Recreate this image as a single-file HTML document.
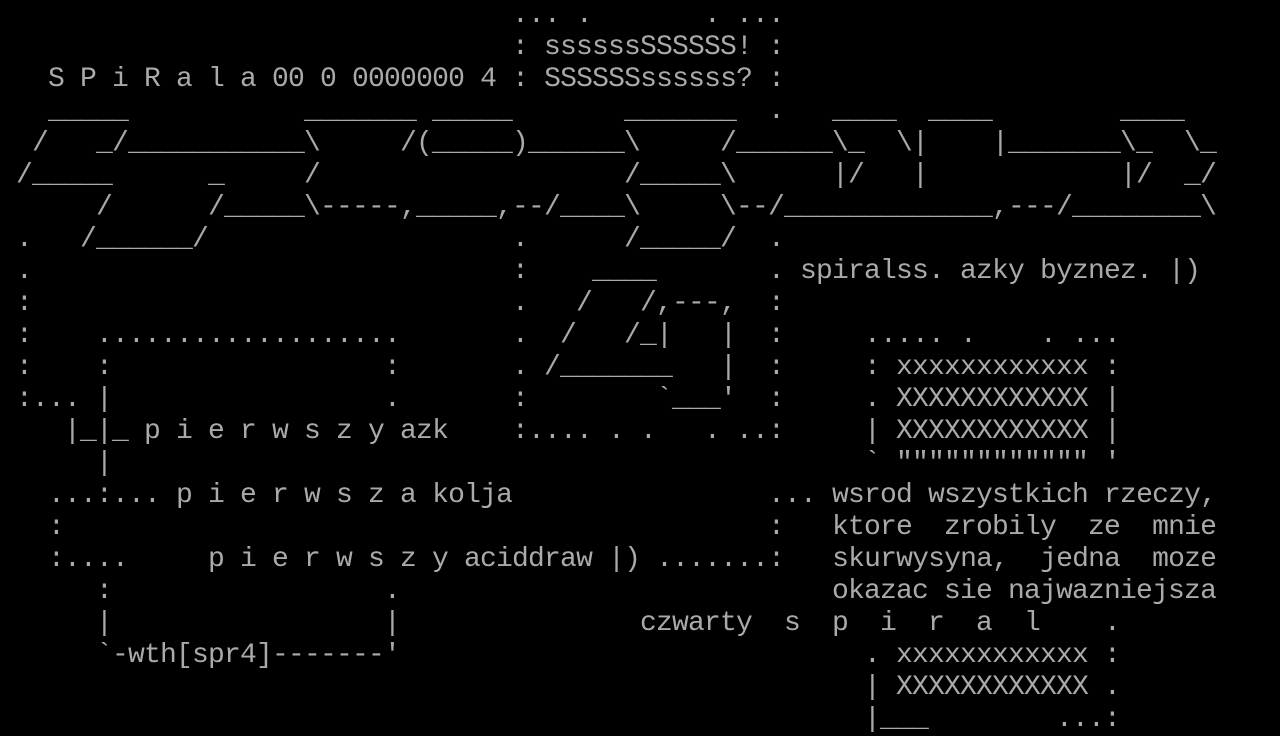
<!DOCTYPE html>
<html><head><meta charset="utf-8">
<style>
html,body{margin:0;padding:0;background:#000;}
#s{position:relative;width:1280px;height:736px;overflow:hidden;background:#000;}
#s span{position:absolute;white-space:pre;font-family:"Liberation Mono",monospace;font-size:28px;letter-spacing:-0.8px;line-height:32px;height:32px;color:#aaa;}
</style></head><body><div id="s">
<span style="top:0px;left:512px">...</span><span style="top:0px;left:576px">.</span><span style="top:0px;left:704px">.</span><span style="top:0px;left:736px">...</span>
<span style="top:32px;left:512px">: ssssssSSSSSS! :</span>
<span style="top:64px;left:48px">S P i R a l a 00 0 0000000 4 : SSSSSSssssss? :</span>
<span style="top:96px;left:48px">_____</span><span style="top:96px;left:304px">_______</span><span style="top:96px;left:432px">_____</span><span style="top:96px;left:624px">_______</span><span style="top:96px;left:768px">.</span><span style="top:96px;left:832px">____</span><span style="top:96px;left:928px">____</span><span style="top:96px;left:1120px">____</span>
<span style="top:128px;left:32px">/</span><span style="top:128px;left:96px">_/___________\</span><span style="top:128px;left:400px">/(_____)______\</span><span style="top:128px;left:720px">/______\_</span><span style="top:128px;left:896px">\|</span><span style="top:128px;left:992px">|_______\_</span><span style="top:128px;left:1184px">\_</span>
<span style="top:160px;left:16px">/_____</span><span style="top:160px;left:208px">_</span><span style="top:160px;left:304px">/</span><span style="top:160px;left:624px">/_____\</span><span style="top:160px;left:832px">|/</span><span style="top:160px;left:912px">|</span><span style="top:160px;left:1120px">|/</span><span style="top:160px;left:1184px">_/</span>
<span style="top:192px;left:96px">/</span><span style="top:192px;left:208px">/_____\-----,_____,--/____\</span><span style="top:192px;left:720px">\--/_____________,---/________\</span>
<span style="top:224px;left:16px">.</span><span style="top:224px;left:80px">/______/</span><span style="top:224px;left:512px">.</span><span style="top:224px;left:624px">/_____/</span><span style="top:224px;left:768px">.</span>
<span style="top:256px;left:16px">.</span><span style="top:256px;left:512px">:</span><span style="top:256px;left:592px">____</span><span style="top:256px;left:768px">. spiralss. azky byznez. |)</span>
<span style="top:288px;left:16px">:</span><span style="top:288px;left:512px">.</span><span style="top:288px;left:576px">/</span><span style="top:288px;left:640px">/,---,</span><span style="top:288px;left:768px">:</span>
<span style="top:320px;left:16px">:</span><span style="top:320px;left:96px">...................</span><span style="top:320px;left:512px">.</span><span style="top:320px;left:560px">/</span><span style="top:320px;left:624px">/_|</span><span style="top:320px;left:720px">|</span><span style="top:320px;left:768px">:</span><span style="top:320px;left:864px">.....</span><span style="top:320px;left:960px">.</span><span style="top:320px;left:1040px">.</span><span style="top:320px;left:1072px">...</span>
<span style="top:352px;left:16px">:</span><span style="top:352px;left:96px">:</span><span style="top:352px;left:384px">:</span><span style="top:352px;left:512px">.</span><span style="top:352px;left:544px">/_______</span><span style="top:352px;left:720px">|</span><span style="top:352px;left:768px">:</span><span style="top:352px;left:864px">: xxxxxxxxxxxx :</span>
<span style="top:384px;left:16px">:...</span><span style="top:384px;left:96px">|</span><span style="top:384px;left:384px">.</span><span style="top:384px;left:512px">:</span><span style="top:384px;left:656px">`___'</span><span style="top:384px;left:768px">:</span><span style="top:384px;left:864px">. XXXXXXXXXXXX |</span>
<span style="top:416px;left:64px">|_|_ p i e r w s z y azk</span><span style="top:416px;left:512px">:....</span><span style="top:416px;left:608px">.</span><span style="top:416px;left:640px">.</span><span style="top:416px;left:704px">.</span><span style="top:416px;left:736px">..:</span><span style="top:416px;left:864px">| XXXXXXXXXXXX |</span>
<span style="top:448px;left:96px">|</span><span style="top:448px;left:864px">` """""""""""" '</span>
<span style="top:480px;left:48px">...:... p i e r w s z a kolja</span><span style="top:480px;left:768px">... wsrod wszystkich rzeczy,</span>
<span style="top:512px;left:48px">:</span><span style="top:512px;left:768px">:   ktore  zrobily  ze  mnie</span>
<span style="top:544px;left:48px">:....</span><span style="top:544px;left:208px">p i e r w s z y aciddraw |) .......:   skurwysyna,  jedna  moze</span>
<span style="top:576px;left:96px">:</span><span style="top:576px;left:384px">.</span><span style="top:576px;left:832px">okazac sie najwazniejsza</span>
<span style="top:608px;left:96px">|</span><span style="top:608px;left:384px">|</span><span style="top:608px;left:640px">czwarty</span><span style="top:608px;left:784px">s  p  i  r  a  l</span><span style="top:608px;left:1104px">.</span>
<span style="top:640px;left:96px">`-wth[spr4]-------'</span><span style="top:640px;left:864px">. xxxxxxxxxxxx :</span>
<span style="top:672px;left:864px">| XXXXXXXXXXXX .</span>
<span style="top:704px;left:864px">|___</span><span style="top:704px;left:1056px">...:</span>
</div></body></html>
